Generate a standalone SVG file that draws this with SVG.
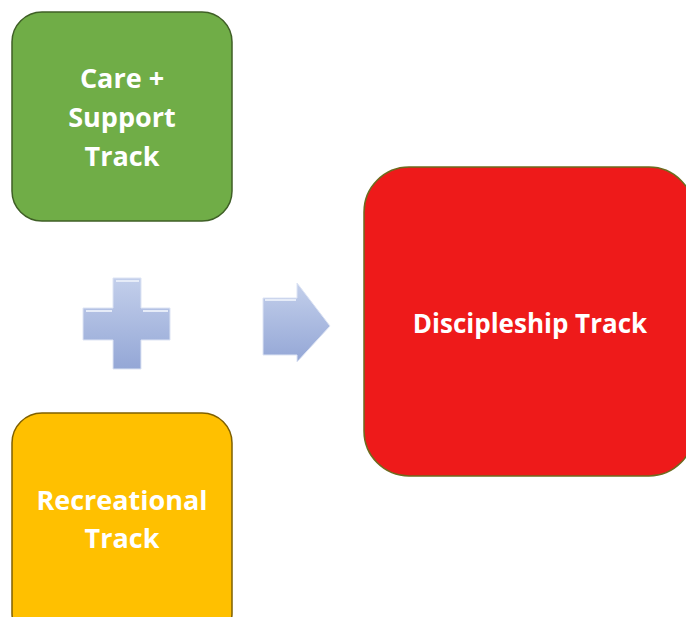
<svg xmlns="http://www.w3.org/2000/svg" width="686" height="617" viewBox="0 0 686 617">
<defs>
<linearGradient id="blue" x1="0" y1="0" x2="0" y2="1">
<stop offset="0" stop-color="#c3cfeb"/>
<stop offset="1" stop-color="#94a7d6"/>
</linearGradient>
<linearGradient id="blueH" x1="0" y1="0" x2="1" y2="0">
<stop offset="0" stop-color="#c8d3ee"/>
<stop offset="1" stop-color="#a9b8e0"/>
</linearGradient>
<style>
.lbl{font-family:"Open Sans","Liberation Sans",sans-serif;font-weight:700;fill:#ffffff;text-anchor:middle}
.box{stroke-width:1.5}
.sym{fill:url(#blue);stroke:#dde4f4;stroke-width:1}
</style>
</defs>
<rect width="686" height="617" fill="#ffffff"/>
<g id="care-support">
<rect class="box" x="12" y="12" width="220" height="209" rx="30" fill="#70ad47" stroke="#3f5f26"/>
<text class="lbl" font-size="27" x="122" y="88">Care +</text>
<text class="lbl" font-size="27" x="122" y="127">Support</text>
<text class="lbl" font-size="27" x="122" y="166">Track</text>
</g>
<g id="recreational">
<rect class="box" x="12" y="413" width="220" height="230" rx="30" fill="#ffc000" stroke="#7f6000"/>
<text class="lbl" font-size="27" x="122" y="510">Recreational</text>
<text class="lbl" font-size="27" x="122" y="548">Track</text>
</g>
<g id="discipleship">
<rect class="box" x="364" y="167" width="330" height="309" rx="45" fill="#ee1a1a" stroke="#6e6a1e"/>
<text class="lbl" font-size="26" x="530" y="333">Discipleship Track</text>
</g>
<g id="connectors">
<path class="sym" d="M113,278 H141 V308 H170 V340 H141 V369 H113 V340 H83 V308 H113 Z"/>
<path d="M116,281 H139 M86,311 H112 M143,311 H168" stroke="#e6ecf8" stroke-width="2" fill="none"/>
<path class="sym" d="M263,298 H297 V283 L330,326 L297,362 V355 H263 Z"/>
<path d="M265,300 H296" stroke="#e6ecf8" stroke-width="2" fill="none"/>
</g>
</svg>
